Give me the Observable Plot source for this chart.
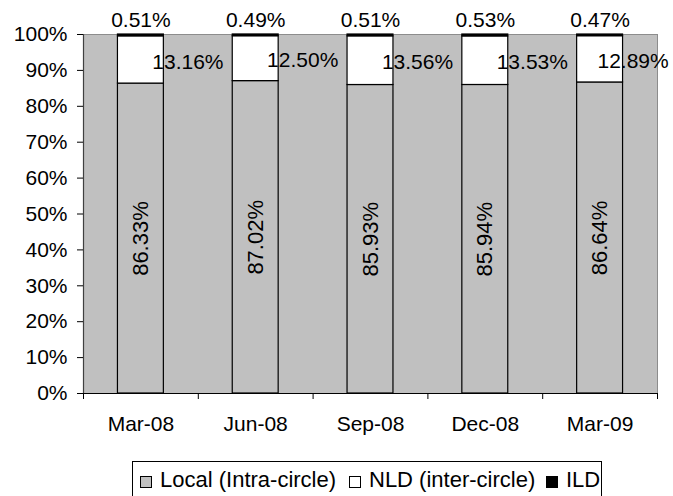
<!DOCTYPE html>
<html>
<head>
<meta charset="utf-8">
<script src="https://cdn.jsdelivr.net/npm/d3@7"></script>
<script src="https://cdn.jsdelivr.net/npm/@observablehq/plot@0.6"></script>
<style>
  html, body { margin: 0; padding: 0; background: #fff; }
  #wrap { position: relative; width: 673px; height: 496px; overflow: hidden; font-family: "Liberation Sans", Arial, sans-serif; }
  #legend { position: absolute; left: 132px; top: 461px; width: 470px; height: 44px; border: 1px solid #000; box-sizing: border-box; }
  .sw { position: absolute; top: 14px; width: 10px; height: 10px; border: 1px solid #000; }
  .lt { position: absolute; top: 6px; font-size: 22px; line-height: 24px; white-space: nowrap; color: #000; }
</style>
</head>
<body>
<div id="wrap"></div>
<script>
const categories = ["Mar-08", "Jun-08", "Sep-08", "Dec-08", "Mar-09"];
const seriesNames = ["Local (Intra-circle)", "NLD (inter-circle)", "ILD"];
const localValues = [86.33, 87.02, 85.93, 85.94, 86.64];
const nldValues = [13.16, 12.50, 13.56, 13.53, 12.89];
const ildValues = [0.51, 0.49, 0.51, 0.53, 0.47];
const yTicks = [0, 10, 20, 30, 40, 50, 60, 70, 80, 90, 100];
const seriesColors = ["#c0c0c0", "#ffffff", "#000000"];

const valuesBySeries = [localValues, nldValues, ildValues];
const rows = [];
categories.forEach((c, i) => {
  let acc = 0;
  valuesBySeries.forEach((vals, s) => {
    const v = vals[i];
    rows.push({i, category: c, series: seriesNames[s], value: v, y1: acc, y2: acc + v});
    acc += v;
  });
});
const fmt = v => v.toFixed(2) + "%";
const last = categories.length - 1;
const localRows = rows.filter(d => d.series === seriesNames[0]);
const nldRows = rows.filter(d => d.series === seriesNames[1]);
const ildRows = rows.filter(d => d.series === seriesNames[2]);

const chart = Plot.plot({
  width: 673,
  height: 455,
  marginLeft: 83,
  marginRight: 16,
  marginTop: 34,
  marginBottom: 62,
  style: {fontFamily: "'Liberation Sans', Arial, sans-serif", fontSize: "21px", background: "transparent", color: "#000", overflow: "visible"},
  x: {domain: [0, categories.length]},
  y: {domain: [0, 100]},
  color: {domain: seriesNames, range: seriesColors},
  marks: [
    Plot.frame({fill: "#c0c0c0", stroke: "#8c8c8c"}),
    Plot.rect(rows, {x1: d => d.i + 0.3, x2: d => d.i + 0.7, y1: "y1", y2: "y2", fill: "series", stroke: "#000", strokeWidth: 1.2}),
    Plot.ruleX([0], {stroke: "#404040", strokeWidth: 1.2}),
    Plot.ruleY([0], {stroke: "#000", strokeWidth: 1.2}),
    Plot.axisY({ticks: yTicks, tickFormat: d => d + "%", tickSize: 6, tickPadding: 10, label: null, stroke: "#000", fontSize: 21}),
    Plot.axisX({ticks: d3.range(0, categories.length + 1), tickFormat: () => "", tickSize: 6, label: null, stroke: "#000"}),
    Plot.axisX({ticks: categories.map((c, i) => i + 0.5), tickFormat: v => categories[Math.floor(v)], tickSize: 0, tickPadding: 23, label: null, fontSize: 21}),
    Plot.text(localRows, {x: d => d.i + 0.5, y: d => (d.y1 + d.y2) / 2, text: d => fmt(d.value), rotate: -90, fontSize: 22, fill: "#000"}),
    Plot.text(nldRows.filter(d => d.i !== last), {x: d => d.i + 0.5, y: d => (d.y1 + d.y2) / 2, text: d => fmt(d.value), dx: 47, dy: 2, fontSize: 21, fill: "#000"}),
    Plot.text(nldRows.filter(d => d.i === last), {x: d => d.i + 0.5, y: d => (d.y1 + d.y2) / 2, text: d => fmt(d.value), dx: 33, dy: 2, fontSize: 21, fill: "#000"}),
    Plot.text(ildRows, {x: d => d.i + 0.5, y: d => d.y2, text: d => fmt(d.value), dy: -14, fontSize: 21, fill: "#000"})
  ]
});
const wrap = document.getElementById("wrap");
wrap.appendChild(chart);

const legend = document.createElement("div");
legend.id = "legend";
const swLeft = [7, 216, 413];
seriesNames.forEach((name, s) => {
  const sw = document.createElement("div");
  sw.className = "sw";
  sw.style.left = swLeft[s] + "px";
  sw.style.background = seriesColors[s];
  legend.appendChild(sw);
  const t = document.createElement("span");
  t.className = "lt";
  t.style.left = (swLeft[s] + 20) + "px";
  t.textContent = name;
  legend.appendChild(t);
});
wrap.appendChild(legend);
</script>
</body>
</html>
